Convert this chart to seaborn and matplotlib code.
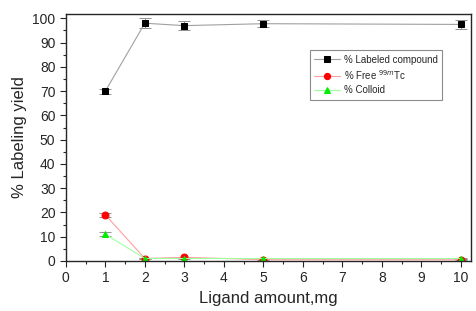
import pandas as pd
import matplotlib.pyplot as plt
import seaborn as sns
from matplotlib.ticker import MultipleLocator

ligand_mg = [1, 2, 3, 5, 10]
labeled = [70, 98, 97, 97.8, 97.5]
labeled_err = [1, 2, 2, 1.5, 2]
free_tc = [19, 1, 1.5, 0.5, 0.5]
free_err = [0.8, 0.3, 0.3, 0.3, 0.3]
colloid = [11, 1, 1, 1, 1]
colloid_err = [0.8, 0.3, 0.3, 0.3, 0.3]

series = [
    ("% Labeled compound", labeled, labeled_err, "black", "#a0a0a0", "s"),
    ("% Free $^{99m}$Tc", free_tc, free_err, "red", "#ffa0a0", "o"),
    ("% Colloid", colloid, colloid_err, "#00ee00", "#a0ffa0", "^"),
]

sns.set_style("ticks")
plt.rcParams['font.family'] = ['Liberation Sans', 'DejaVu Sans']

fig = plt.figure(figsize=(4.77, 3.11), dpi=100)
ax = fig.add_axes([0.138, 0.161, 0.849, 0.794])

for name, vals, errs, mc, lc, mk in series:
    df = pd.DataFrame({'x': ligand_mg, 'y': vals})
    sns.lineplot(data=df, x='x', y='y', ax=ax, color=lc, lw=0.8,
                 marker=mk, markersize=5, markerfacecolor=mc,
                 markeredgecolor=mc, label=name)
    ax.errorbar(ligand_mg, vals, yerr=errs, fmt='none', ecolor='#909090',
                elinewidth=0.7, capsize=4, capthick=0.7, zorder=1)

ax.set_xlim(0, 10.25)
ax.set_ylim(0, 101.8)
ax.xaxis.set_major_locator(MultipleLocator(1))
ax.xaxis.set_minor_locator(MultipleLocator(0.5))
ax.yaxis.set_major_locator(MultipleLocator(10))
ax.yaxis.set_minor_locator(MultipleLocator(5))
ax.tick_params(which='major', length=4, width=0.8, labelsize=10)
ax.tick_params(which='minor', length=2.5, width=0.8)
for s in ax.spines.values():
    s.set_linewidth(1)
ax.set_xlabel("Ligand amount,mg", fontsize=12)
ax.set_ylabel("% Labeling yield", fontsize=12)

leg = ax.legend(loc='upper left', bbox_to_anchor=(0.59, 0.875), fontsize=7,
                frameon=True, fancybox=False, edgecolor='#707070',
                handlelength=2.6, handletextpad=0.4, borderpad=0.5,
                labelspacing=0.35, markerscale=0.9)
leg.get_frame().set_linewidth(0.8)

fig.savefig("out.png", dpi=100)
